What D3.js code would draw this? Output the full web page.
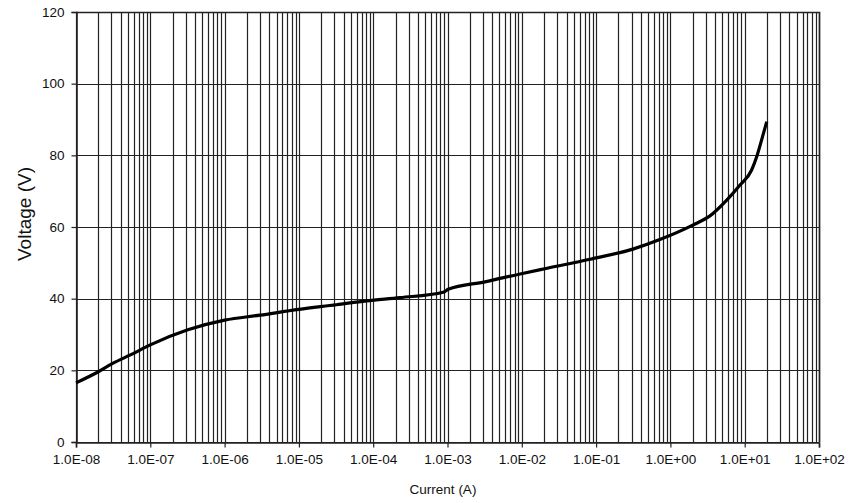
<!DOCTYPE html>
<html lang="en">
  <head>
    <meta charset="UTF-8" />
    <title>Voltage vs current</title>
    <style>
      body {
        margin: 0;
        background: #fff;
      }
      text {
        font-family: "Liberation Sans", Arial, sans-serif;
        fill: #111;
      }
    </style>
  </head>
  <body>
    <div id="chart"></div>

    <script src="https://cdn.jsdelivr.net/npm/d3@7"></script>

    <script>
      // data: current (A) and voltage (V)
      var currents = [
        1e-8, 2.0e-8, 3.16e-8, 5.4e-8, 1.0e-7, 3.2e-7, 1.0e-6, 3.0e-6,
        1.0e-5, 3.2e-5, 8.1e-5, 2.3e-4, 8.8e-4, 1.02e-3, 3.2e-3, 9.5e-3,
        2.2e-2, 8.3e-2, 0.32, 0.72, 2.03, 3.41, 5.73, 8.65, 12.4, 14.5,
        16.9, 19.8
      ];
      var voltages = [
        16.5, 19.6, 22.0, 24.3, 27.1, 31.3, 34.0, 35.4,
        37.0, 38.3, 39.4, 40.3, 41.8, 42.6, 44.7, 46.9,
        48.5, 51.0, 53.9, 56.5, 60.6, 63.1, 67.5, 71.7, 75.9, 79.6,
        84.3, 89.4
      ];
      var yTicks = [0, 20, 40, 60, 80, 100, 120];
      var xDecades = [1e-8, 1e-7, 1e-6, 1e-5, 1e-4, 1e-3, 1e-2, 1e-1, 1e0, 1e1, 1e2];

      var width = 849,
        height = 503;
      var margin = { top: 12, right: 30, bottom: 61, left: 76 };

      var svg = d3
        .select("#chart")
        .append("svg")
        .attr("width", width)
        .attr("height", height);

      var x = d3
        .scaleLog()
        .domain([1e-8, 1e2])
        .range([margin.left, width - margin.right]);
      var y = d3
        .scaleLinear()
        .domain([0, 120])
        .range([height - margin.bottom, margin.top]);

      //////////////////////////// Gridlines ////////////////////////////

      // minor + major vertical lines, 1..9 in every decade
      var gridX = [];
      xDecades.forEach(function(d, i) {
        if (i == xDecades.length - 1) {
          gridX.push(d);
          return;
        }
        for (var k = 1; k < 10; k++) gridX.push(d * k);
      });

      svg
        .append("g")
        .selectAll("line")
        .data(gridX)
        .enter()
        .append("line")
        .attr("x1", function(d) { return Math.round(x(d)) + 0.5; })
        .attr("x2", function(d) { return Math.round(x(d)) + 0.5; })
        .attr("y1", y(0))
        .attr("y2", y(120))
        .style("stroke", "#222")
        .style("stroke-width", 1.2);

      svg
        .append("g")
        .selectAll("line")
        .data(yTicks)
        .enter()
        .append("line")
        .attr("x1", x(1e-8))
        .attr("x2", x(1e2))
        .attr("y1", function(d) { return Math.round(y(d)) + 0.5; })
        .attr("y2", function(d) { return Math.round(y(d)) + 0.5; })
        .style("stroke", "#222")
        .style("stroke-width", 1.2);

      //////////////////////////// Axes ////////////////////////////

      var xAxis = d3
        .axisBottom(x)
        .tickValues(xDecades)
        .tickSize(5)
        .tickPadding(7)
        .tickFormat(function(d) {
          var e = Math.round(Math.log10(d));
          var s = e < 0 ? "-" : "+";
          return "1.0E" + s + String(Math.abs(e)).padStart(2, "0");
        });

      var gx = svg
        .append("g")
        .attr("transform", "translate(0," + (Math.round(y(0)) + 0.5) + ")")
        .call(xAxis);

      var yAxis = d3.axisLeft(y).tickValues(yTicks).tickSize(5).tickPadding(7);

      var gy = svg
        .append("g")
        .attr("transform", "translate(" + (Math.round(x(1e-8)) + 0.5) + ",0)")
        .call(yAxis);

      [gx, gy].forEach(function(g) {
        g.selectAll(".domain").style("stroke", "#222").style("stroke-width", 1.6);
        g.selectAll(".tick line").style("stroke", "#222").style("stroke-width", 1.2);
        g.selectAll("text")
          .style("font-size", "13.5px")
          .style("font-family", "'Liberation Sans', Arial, sans-serif")
          .style("fill", "#111");
      });

      // top and right frame
      svg
        .append("path")
        .attr(
          "d",
          "M" + x(1e-8) + "," + (y(120) + 0.5) +
          "H" + (Math.round(x(1e2)) + 0.5) +
          "V" + y(0)
        )
        .style("fill", "none")
        .style("stroke", "#222")
        .style("stroke-width", 1.6);

      //////////////////////////// Curve ////////////////////////////

      var points = currents.map(function(c, i) {
        return [c, voltages[i]];
      });

      var line = d3
        .line()
        .x(function(d) { return x(d[0]); })
        .y(function(d) { return y(d[1]); })
        .curve(d3.curveMonotoneX);

      svg
        .append("path")
        .datum(points)
        .attr("d", line)
        .style("fill", "none")
        .style("stroke", "#000")
        .style("stroke-width", 3.2)
        .style("stroke-linejoin", "round");

      //////////////////////////// Labels ////////////////////////////

      svg
        .append("text")
        .attr("x", 443)
        .attr("y", 494)
        .attr("text-anchor", "middle")
        .style("font-size", "13.5px")
        .text("Current (A)");

      svg
        .append("text")
        .attr("transform", "translate(31,214) rotate(-90)")
        .attr("text-anchor", "middle")
        .style("font-size", "19px")
        .text("Voltage (V)");
    </script>
  </body>
</html>
